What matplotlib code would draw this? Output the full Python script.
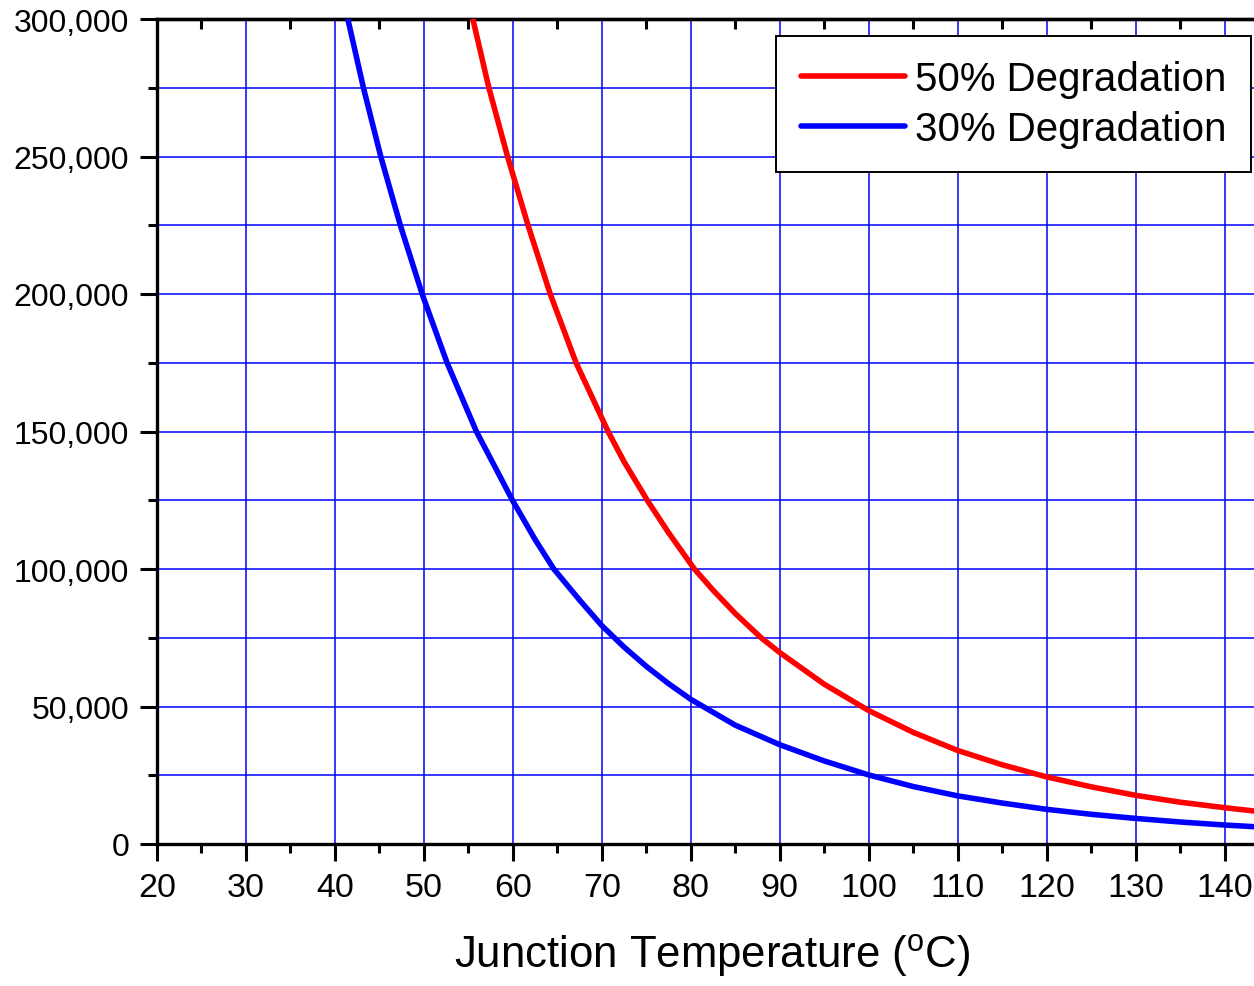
import matplotlib
matplotlib.use("Agg")
import matplotlib.pyplot as plt
from matplotlib.ticker import FixedLocator

plt.rcParams['font.family'] = ['Liberation Sans', 'DejaVu Sans']
plt.rcParams['mathtext.fontset'] = 'custom'
plt.rcParams['mathtext.rm'] = 'Liberation Sans'
plt.rcParams['mathtext.it'] = 'Liberation Sans:italic'

# ---- data ----
temp_50 = [55.5, 57.3, 59.4, 61.7, 64.2, 67.1, 70.7, 72.5, 75.1, 77.5, 80.4, 82.5,
           85.0, 87.9, 90.0, 95.0, 100.0, 105.0, 110.0, 115.0, 120.0, 125.0, 130.0,
           135.0, 140.0, 143.3]
life_50 = [300000, 275000, 250000, 225000, 200000, 175000, 150000, 139000, 125000,
           113200, 100000, 92300, 83800, 75000, 69600, 58100, 48500, 40600, 34000,
           28800, 24400, 20800, 17700, 15200, 13200, 12000]

temp_30 = [41.45, 43.2, 45.15, 47.35, 49.8, 52.6, 55.9, 59.95, 62.5, 64.6, 67.5, 70.0,
           72.5, 75.0, 77.5, 80.0, 85.0, 90.0, 95.0, 100.0, 105.0, 110.0, 115.0,
           120.0, 125.0, 130.0, 135.0, 140.0, 143.3]
life_30 = [300000, 275000, 250000, 225000, 200000, 175000, 150000, 125000, 110700,
           100000, 88700, 79400, 71600, 64600, 58300, 52600, 43200, 36100, 30200,
           25100, 20900, 17500, 14900, 12600, 10800, 9300, 8000, 6900, 6300]

series_labels = ['50% Degradation', '30% Degradation']
series_colors = ['#ff0000', '#0000ff']

x_major = [20, 30, 40, 50, 60, 70, 80, 90, 100, 110, 120, 130, 140]
x_minor = [25, 35, 45, 55, 65, 75, 85, 95, 105, 115, 125, 135]
y_major = [0, 50000, 100000, 150000, 200000, 250000, 300000]
y_major_labels = ['0', '50,000', '100,000', '150,000', '200,000', '250,000', '300,000']
y_minor = [25000, 75000, 125000, 175000, 225000, 275000]
x_label = r'Junction Temperature ($^{\mathrm{o}}$C)'

# ---- figure ----
fig = plt.figure(figsize=(12.54, 9.87), dpi=100)
ax = fig.add_axes([157/1254, (987-845)/987, (1254-157)/1254, (845-20)/987])

ax.set_xlim(20, 143.3)
ax.set_ylim(0, 300000)

ax.xaxis.set_major_locator(FixedLocator(x_major))
ax.xaxis.set_minor_locator(FixedLocator(x_minor))
ax.yaxis.set_major_locator(FixedLocator(y_major))
ax.yaxis.set_minor_locator(FixedLocator(y_minor))
ax.set_yticklabels(y_major_labels)

ax.grid(False)
ax.xaxis.grid(True, which='major', color='#0000ff', linewidth=1.1)
ax.yaxis.grid(True, which='both', color='#0000ff', linewidth=1.1)
ax.set_axisbelow(True)

for s in ['left', 'bottom', 'top']:
    ax.spines[s].set_linewidth(2.4)
    ax.spines[s].set_color('black')
ax.spines['right'].set_visible(False)

ax.tick_params(axis='both', which='major', direction='out', length=12, width=2.2,
               colors='black', pad=8)
ax.tick_params(axis='both', which='minor', direction='out', length=6.5, width=2.2,
               colors='black')
ax.tick_params(axis='x', which='major', labelsize=24.5)
ax.tick_params(axis='y', which='major', labelsize=23)
ax.tick_params(top=False, right=False, which='both')

# top axis with inward minor ticks
sec = ax.secondary_xaxis('top')
sec.xaxis.set_major_locator(FixedLocator([]))
sec.xaxis.set_minor_locator(FixedLocator(x_minor))
sec.tick_params(which='minor', direction='in', length=7, width=2.2, colors='black')
sec.spines['top'].set_linewidth(2.4)

ax.plot(temp_50, life_50, color=series_colors[0], linewidth=4.0, label=series_labels[0],
        solid_capstyle='round', solid_joinstyle='round', zorder=3)
ax.plot(temp_30, life_30, color=series_colors[1], linewidth=4.0, label=series_labels[1],
        solid_capstyle='round', solid_joinstyle='round', zorder=3)

ax.set_xlabel(x_label, fontsize=31.5, labelpad=20)
ax.xaxis.label.set_x(0.506)

leg = ax.legend(loc='upper right', bbox_to_anchor=(1251/1254, 1-37/987),
                bbox_transform=fig.transFigure, borderaxespad=0, fontsize=29,
                handlelength=2.6, handletextpad=0.25, labelspacing=0.3,
                borderpad=0.6, fancybox=False, framealpha=1, edgecolor='black')
leg.get_frame().set_linewidth(1.4)
for h in leg.get_lines():
    h.set_linewidth(4.0)

fig.savefig('out.png', dpi=100)
